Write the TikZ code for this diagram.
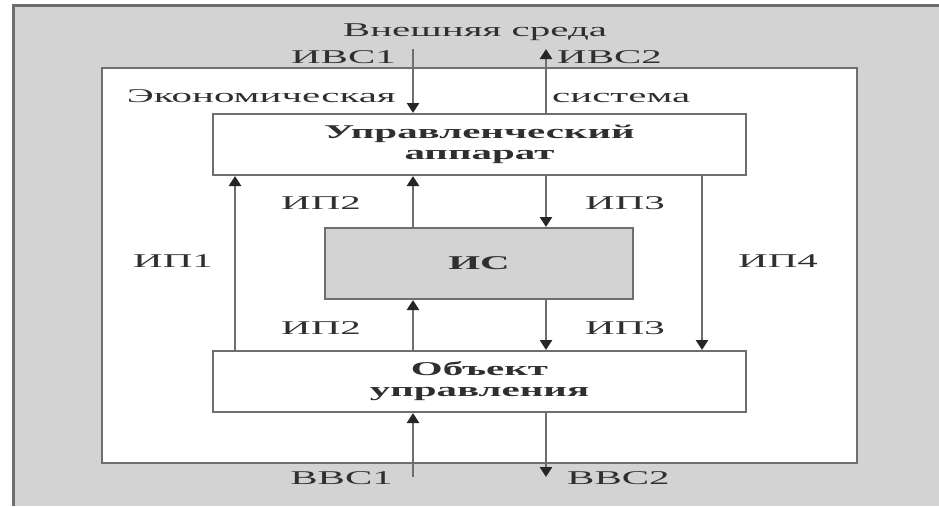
\documentclass[tikz,border=0pt]{standalone}
\usepackage{fontspec}
\setmainfont{Liberation Serif}[FakeStretch=2.1]
\usetikzlibrary{arrows.meta,positioning}
\definecolor{envgray}{HTML}{D3D3D3}
\definecolor{linegray}{HTML}{6E6E6E}
\definecolor{txtgray}{HTML}{2F2F2F}

\begin{document}
\begin{tikzpicture}[x=1pt, y=-1pt,
  font=\fontsize{19.5}{20}\selectfont, text=txtgray,
  block/.style={draw=linegray, line width=2pt, fill=white, inner sep=0pt,
    align=center, font=\fontsize{19.5}{21}\selectfont\bfseries},
  flow/.style={linegray, line width=2.8pt,
    -{Triangle[width=12pt,length=10pt,color=black!85]}},
  lbl/.style={inner sep=0pt, anchor=base}]
  \useasboundingbox (0,0) rectangle (939,506);
  % ---- environment and system frame ----
  \fill[envgray] (13,5) rectangle (939,506);
  \draw[linegray, line width=3pt] (13,506) -- (13,5) -- (939,5);
  \draw[linegray, line width=2.5pt, fill=white] (102,68) rectangle (857,463);
  % ---- blocks ----
  \node[block, minimum width=533pt, minimum height=61pt] (upr) at (479.5,144.5)
    {Управленческий\\аппарат};
  \node[block, fill=envgray, minimum width=308pt, minimum height=71pt] (is) at (479,263.5) {ИС};
  \node[block, minimum width=533pt, minimum height=61pt] (obj) at (479.5,381.5)
    {Объект\\управления};
  % ---- free ends and columns ----
  \coordinate (inA) at (413,49);
  \coordinate (inB) at (546,49);
  \coordinate (outA) at (413,477);
  \coordinate (outB) at (546,477);
  \coordinate (colL) at (235,0);
  \coordinate (colR) at (702,0);
  % ---- flows ----
  \draw[flow] (inA) -- (upr.north -| inA);
  \draw[flow] (upr.north -| inB) -- (inB);
  \draw[flow] (obj.north -| colL) -- (upr.south -| colL);
  \draw[flow] (is.north -| inA) -- (upr.south -| inA);
  \draw[flow] (obj.north -| inA) -- (is.south -| inA);
  \draw[flow] (upr.south -| inB) -- (is.north -| inB);
  \draw[flow] (is.south -| inB) -- (obj.north -| inB);
  \draw[flow] (upr.south -| colR) -- (obj.north -| colR);
  \draw[flow] (outA) -- (obj.south -| outA);
  \draw[flow] (obj.south -| outB) -- (outB);
  % ---- labels ----
  \node[lbl] (env) at (475,36) {Внешняя среда};
  \node[lbl, anchor=base east] (ivs1) at (396,63) {ИВС1};
  \node[lbl, anchor=base west] (ivs2) at (557,63) {ИВС2};
  \node[lbl, anchor=base east] (econ) at (396,102) {Экономическая};
  \node[lbl, anchor=base west] (sys) at (552,102) {система};
  \foreach \n/\x/\y/\t in {ipAu/321/209/ИП2, ipBu/625/209/ИП3, ipL/173/267/ИП1,
      ipR/778/267/ИП4, ipAd/321/334/ИП2, ipBd/625/334/ИП3}
    \node[lbl] (\n) at (\x,\y) {\t};
  \node[lbl, anchor=base east] (vvs1) at (393,484) {ВВС1};
  \node[lbl, anchor=base west] (vvs2) at (567,484) {ВВС2};
\end{tikzpicture}
\end{document}
